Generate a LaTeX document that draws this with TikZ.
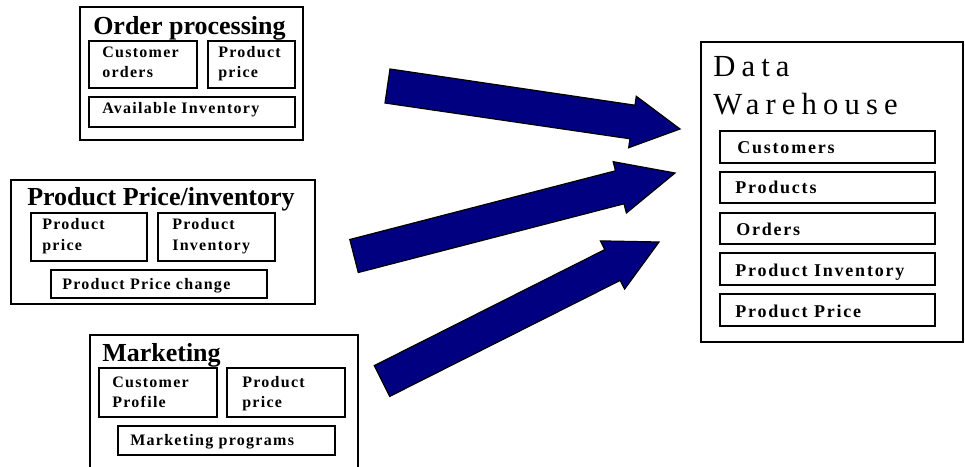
\documentclass[tikz,border=0pt]{standalone}
\usepackage{fontspec}
\setmainfont{Liberation Serif}
\newfontfamily\lsfont[LetterSpace=8]{Liberation Serif}
\newfontfamily\dlsfont[LetterSpace=10]{Liberation Serif}
\newfontfamily\dwfont[LetterSpace=20]{Liberation Serif}
\definecolor{arrownavy}{HTML}{000080}
\begin{document}
\begin{tikzpicture}[x=0.75pt,y=-0.75pt,
  obox/.style={draw=black, line width=1.3pt},
  ibox/.style={draw=black, line width=1.1pt},
  ttl/.style={anchor=base west, inner sep=0pt, font=\bfseries\fontsize{19.5}{22}\selectfont},
  itxt/.style={anchor=base west, inner sep=0pt, font=\lsfont\bfseries\fontsize{12}{14}\selectfont},
  dtxt/.style={anchor=base west, inner sep=0pt, font=\dlsfont\bfseries\fontsize{13.5}{15}\selectfont},
  dwttl/.style={anchor=base west, inner sep=0pt, font=\dwfont\fontsize{23}{26}\selectfont},
  barrow/.style={fill=arrownavy, draw=black, line width=0.9pt, line join=miter}]
\useasboundingbox (0,0) rectangle (965,467);

% ---------- Order processing ----------
\draw[obox] (80,7) rectangle (303,140);
\node[ttl] (t1) at (93,35) {Order processing};
\draw[ibox] (89,41) rectangle (197,88);
\node[itxt] (t1a1) at (102,58) {Customer};
\node[itxt] (t1a2) at (102,78) {orders};
\draw[ibox] (208,41) rectangle (295,88);
\node[itxt] (t1b1) at (218,58) {Product};
\node[itxt] (t1b2) at (218,78) {price};
\draw[ibox] (89,97) rectangle (295,127);
\node[itxt] (t1c) at (102,114) {Available Inventory};

% ---------- Product Price/inventory ----------
\draw[obox] (11,180) rectangle (315,304);
\node[ttl] (t2) at (27,205) {Product Price/inventory};
\draw[ibox] (31,213) rectangle (147,261);
\node[itxt] (t2a1) at (42,229) {Product};
\node[itxt] (t2a2) at (42,250) {price};
\draw[ibox] (158,213) rectangle (275,261);
\node[itxt] (t2b1) at (172,229) {Product};
\node[itxt] (t2b2) at (172,250) {Inventory};
\draw[ibox] (51,270) rectangle (267,298);
\node[itxt] (t2c) at (62,289) {Product Price change};

% ---------- Marketing ----------
\draw[obox] (90,467) -- (90,335) -- (358,335) -- (358,467);
\node[ttl] (t3) at (102,361) {Marketing};
\draw[ibox] (99,368) rectangle (217,417);
\node[itxt] (t3a1) at (112,387) {Customer};
\node[itxt] (t3a2) at (112,407) {Profile};
\draw[ibox] (227,368) rectangle (345,417);
\node[itxt] (t3b1) at (242,387) {Product};
\node[itxt] (t3b2) at (242,407) {price};
\draw[ibox] (118,426) rectangle (335,455);
\node[itxt] (t3c) at (130,445) {Marketing programs};

% ---------- Data Warehouse ----------
\draw[obox] (701,42) rectangle (963,342);
\node[dwttl] (dw1) at (713,77) {Data};
\node[dwttl] (dw2) at (713,115) {Warehouse};
\draw[ibox] (720,131) rectangle (935,163);
\node[dtxt] (d1) at (737,153) {Customers};
\draw[ibox] (720,172) rectangle (935,203);
\node[dtxt] (d2) at (735,193) {Products};
\draw[ibox] (720,213) rectangle (935,244);
\node[dtxt] (d3) at (736,235) {Orders};
\draw[ibox] (720,253) rectangle (935,285);
\node[dtxt] (d4) at (735,276) {Product Inventory};
\draw[ibox] (720,294) rectangle (935,326);
\node[dtxt] (d5) at (735,317) {Product Price};

% ---------- Block arrows ----------
\draw[barrow] (390,69) -- (635,105.2) -- (636.3,96.3) -- (680,129)
  -- (628.7,147.7) -- (630,138.8) -- (385,103) -- cycle;
\draw[barrow] (349.8,239.5) -- (615.5,170.8) -- (613.2,161.7) -- (675,173)
  -- (626.4,213) -- (624,203.8) -- (358.3,272.5) -- cycle;
\draw[barrow] (374.3,365.6) -- (604.8,249.6) -- (600.4,240.9) -- (659,242)
  -- (624.6,289.1) -- (620.2,280.4) -- (389.7,396.4) -- cycle;
\end{tikzpicture}
\end{document}
